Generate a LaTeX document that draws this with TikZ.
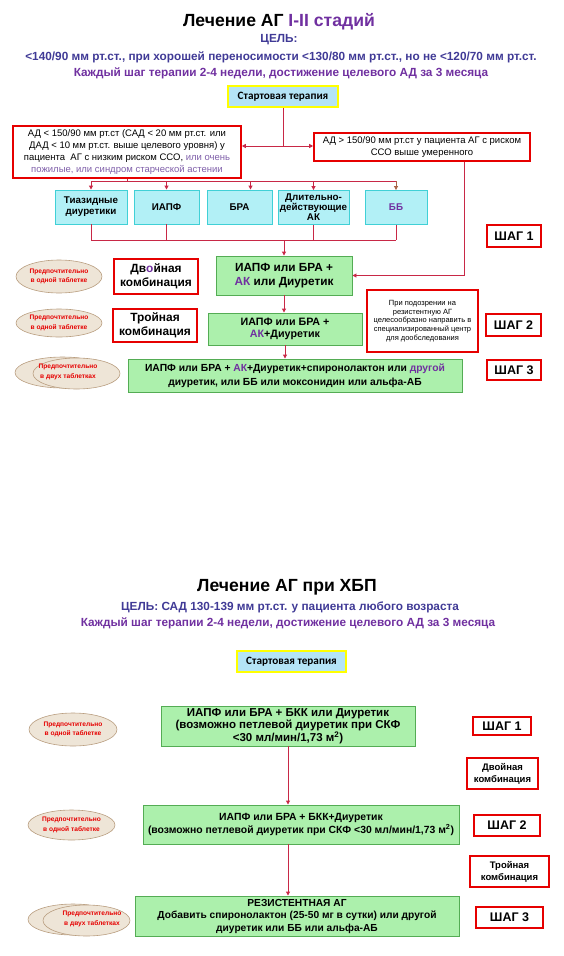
\documentclass[tikz,border=0pt]{standalone}
\usepackage{fontspec}
\setmainfont{Liberation Sans}
\newfontfamily\calfont{Carlito}
\usepackage{xcolor}
\definecolor{agpurple}{RGB}{112,48,160}
\definecolor{agslate}{RGB}{64,58,150}
\definecolor{aglilac}{RGB}{128,96,170}
\definecolor{agred}{RGB}{230,0,0}
\definecolor{agwire}{RGB}{200,40,70}
\definecolor{agbrown}{RGB}{170,100,70}
\definecolor{agcyan}{RGB}{64,208,214}
\definecolor{agcyanfill}{RGB}{178,240,246}
\definecolor{aggreen}{RGB}{84,172,84}
\definecolor{aggreenfill}{RGB}{172,240,172}
\definecolor{agstartfill}{RGB}{180,228,246}
\definecolor{agyellow}{RGB}{255,255,0}
\definecolor{agpill}{RGB}{238,229,215}
\definecolor{agpilledge}{RGB}{185,158,128}
\usetikzlibrary{arrows.meta,shapes.geometric}

\begin{document}
\begin{tikzpicture}[x=1pt,y=-1pt,
    titletext/.style={font=\fontsize{17.6}{20}\selectfont\bfseries},
    goaltext/.style={font=\fontsize{11.8}{14}\selectfont\bfseries, text=agslate},
    starttag/.style={draw=agyellow, line width=1.8pt, fill=agstartfill, inner sep=0pt,
                     minimum height=21pt, font=\calfont\fontsize{11.2}{12}\selectfont\bfseries},
    condbox/.style={draw=agred, line width=1.6pt, fill=white, inner sep=0pt, align=center,
                    font=\fontsize{9.5}{12.3}\selectfont},
    drugbox/.style={draw=agcyan, line width=0.9pt, fill=agcyanfill, inner sep=0pt, align=center,
                    minimum height=34pt, font=\fontsize{9.8}{11}\selectfont\bfseries},
    therapy/.style={draw=aggreen, line width=0.9pt, fill=aggreenfill, inner sep=0pt, align=center,
                    font=\fontsize{10}{13}\selectfont\bfseries},
    combo/.style={draw=agred, line width=1.6pt, fill=white, inner sep=0pt, align=center,
                  font=\fontsize{11.9}{14}\selectfont\bfseries},
    shagbox/.style={draw=agred, line width=1.6pt, fill=white, inner sep=0pt,
                    font=\fontsize{12.5}{13}\selectfont\bfseries},
    pill/.style={ellipse, draw=agpilledge, line width=0.6pt, fill=agpill, inner sep=0pt,
                 align=center, text=agred, font=\fontsize{6.6}{9.5}\selectfont\bfseries},
    pilltext/.style={align=center, text=agred, font=\fontsize{6.6}{9.5}\selectfont\bfseries},
    wire/.style={draw=agwire, line width=0.9pt},
    arr/.style={wire, -{Triangle[length=4pt,width=4pt]}}
  ]
  \useasboundingbox (0,0) rectangle (563,956);

  % I-II stages
  \node[titletext] (ttl1) at (279,22) {Лечение АГ \textcolor{agpurple}{I-II стадий}};
  \node[goaltext] (goal1) at (279,39.5) {ЦЕЛЬ:};
  \node[goaltext] (goal2) at (281,57) {<140/90 мм рт.ст., при хорошей переносимости <130/80 мм рт.ст., но не <120/70 мм рт.ст.};
  \node[goaltext, text=agpurple] (goal3) at (281,73) {Каждый шаг терапии 2-4 недели, достижение целевого АД за 3 месяца};

  \node[starttag, minimum width=110pt] (start1) at (283,96.5) {Стартовая терапия};

  \node[condbox, minimum width=228pt, minimum height=52pt] (lowrisk) at (127,152)
    {АД < 150/90 мм рт.ст (САД < 20 мм рт.ст. или\\ДАД < 10 мм рт.ст. выше целевого уровня) у\\
     пациента~ АГ с низким риском ССО, \textcolor{aglilac}{или очень}\\
     \textcolor{aglilac}{пожилые, или синдром старческой астении}};
  \node[condbox, minimum width=216pt, minimum height=28pt] (highrisk) at (422,147)
    {АД > 150/90 мм рт.ст у пациента АГ с риском\\ССО выше умеренного};

  \node[drugbox, minimum width=72pt] (thiaz) at (91,207) {Тиазидные\\диуретики};
  \node[drugbox, minimum width=65pt] (acei)  at (166.5,207) {ИАПФ};
  \node[drugbox, minimum width=65pt] (arb)   at (239.5,207) {БРА};
  \node[drugbox, minimum width=71pt, font=\fontsize{9.8}{10}\selectfont\bfseries] (ccb) at (313.5,207.5)
    {Длительно-\\действующие\\АК};
  \node[drugbox, minimum width=62pt, text=agpurple] (bb) at (396,207.5) {ББ};

  \node[therapy, minimum width=136pt, minimum height=39pt, font=\fontsize{11.8}{14}\selectfont\bfseries] (s1) at (284,275.5)
    {ИАПФ или БРА +\\\textcolor{agpurple}{АК} или Диуретик};
  \node[therapy, minimum width=154pt, minimum height=32pt, font=\fontsize{10.7}{12.5}\selectfont\bfseries] (s2) at (285,329)
    {ИАПФ или БРА +\\\textcolor{agpurple}{АК}+Диуретик};
  \node[therapy, minimum width=334pt, minimum height=33pt, font=\fontsize{10.3}{14}\selectfont\bfseries] (s3) at (295,375.5)
    {ИАПФ или БРА + \textcolor{agpurple}{АК}+Диуретик+спиронолактон или \textcolor{agpurple}{другой}\\
     диуретик, или ББ или моксонидин или альфа-АБ};

  \node[pill, minimum width=86pt, minimum height=33pt] (pill1) at (59,276.5) {Предпочтительно\\в одной таблетке};
  \node[pill, minimum width=86pt, minimum height=28pt] (pill2) at (59,323) {Предпочтительно\\в одной таблетке};
  \node[pill, minimum width=95pt, minimum height=31pt] (pill3b) at (62.5,372.5) {};
  \node[pill, minimum width=87pt, minimum height=31pt] (pill3) at (76.5,373.5) {};
  \node[pilltext] (pill3t) at (68,372) {Предпочтительно\\в двух таблетках};

  \node[combo, minimum width=84pt, minimum height=35pt] (dual1) at (156,276.5) {Дв\textcolor{agpurple}{о}йная\\комбинация};
  \node[combo, minimum width=84pt, minimum height=33pt] (triple1) at (155,325.5) {Тройная\\комбинация};

  \node[condbox, minimum width=111pt, minimum height=62pt, font=\fontsize{7.5}{8.6}\selectfont] (refer) at (422.5,321)
    {При подозрении на\\резистентную АГ\\целесообразно направить в\\специализированный центр\\для дообследования};

  \node[shagbox, minimum width=54pt, minimum height=22pt] (shag1) at (514,236) {ШАГ 1};
  \node[shagbox, minimum width=55pt, minimum height=22pt] (shag2) at (513.5,325) {ШАГ 2};
  \node[shagbox, minimum width=54pt, minimum height=20pt] (shag3) at (514,370) {ШАГ 3};

  \coordinate (fork) at (start1.south |- 0,146);
  \draw[wire] (start1.south) -- (fork);
  \draw[arr] (fork) -- (fork -| lowrisk.east);
  \draw[arr] (fork) -- (fork -| highrisk.west);

  \coordinate (bus) at (lowrisk.south |- 0,181);
  \coordinate (arbin) at ([xshift=11pt]arb.north);
  \draw[wire] (lowrisk.south) -- (bus);
  \draw[wire] (bus -| thiaz.north) -- (bus -| bb.north);
  \foreach \d in {thiaz,acei,ccb}
    \draw[arr] (bus -| \d.north) -- (\d.north);
  \draw[arr] (bus -| arbin) -- (arbin);
  \draw[arr, draw=agbrown] (bus -| bb.north) -- (bb.north);

  \coordinate (merge) at (s1.north |- 0,240);
  \foreach \d in {thiaz,acei,ccb,bb}
    \draw[wire] (\d.south) -- (\d.south |- merge);
  \draw[wire] (thiaz.south |- merge) -- (bb.south |- merge);
  \draw[arr] (merge) -- (s1.north);

  \coordinate (feed) at ([xshift=42pt]highrisk.south);
  \draw[arr] (feed) |- (s1.east);

  \draw[arr] (s1.south) -- (s1.south |- s2.north);
  \draw[arr] (s2.south) -- (s2.south |- s3.north);

  % CKD
  \node[titletext] (ttl2) at (287,587) {Лечение АГ при ХБП};
  \node[goaltext] (goal4) at (290,607) {ЦЕЛЬ: САД 130-139 мм рт.ст. у пациента любого возраста};
  \node[goaltext, text=agpurple] (goal5) at (288,623) {Каждый шаг терапии 2-4 недели, достижение целевого АД за 3 месяца};

  \node[starttag, minimum width=109pt] (start2) at (291.5,661.5) {Стартовая терапия};

  \node[therapy, minimum width=254pt, minimum height=40pt, font=\fontsize{11.5}{12.8}\selectfont\bfseries] (k1) at (288,726)
    {ИАПФ или БРА + БКК или Диуретик\\(возможно петлевой диуретик при СКФ\\<30 мл/мин/1,73 м\textsuperscript{2})};
  \node[therapy, minimum width=316pt, minimum height=39pt, font=\fontsize{10.4}{12.5}\selectfont\bfseries] (k2) at (301,824.5)
    {ИАПФ или БРА + БКК+Диуретик\\(возможно петлевой диуретик при СКФ <30 мл/мин/1,73 м\textsuperscript{2})};
  \node[therapy, minimum width=324pt, minimum height=40pt, font=\fontsize{10.2}{12.5}\selectfont\bfseries] (k3) at (297,916)
    {РЕЗИСТЕНТНАЯ АГ\\Добавить спиронолактон (25-50 мг в сутки) или другой\\диуретик или ББ или альфа-АБ};

  \node[pill, minimum width=88pt, minimum height=33pt] (kpill1) at (73,729.5) {Предпочтительно\\в одной таблетке};
  \node[pill, minimum width=87pt, minimum height=30pt] (kpill2) at (71.5,825) {Предпочтительно\\в одной таблетке};
  \node[pill, minimum width=90pt, minimum height=31pt] (kpill3b) at (73,919.5) {};
  \node[pill, minimum width=87pt, minimum height=31pt] (kpill3) at (86.5,920.5) {};
  \node[pilltext] (kpill3t) at (92,919) {Предпочтительно\\в двух таблетках};

  \node[shagbox, minimum width=58pt, minimum height=18pt] (kshag1) at (502,726) {ШАГ 1};
  \node[combo, minimum width=71pt, minimum height=31pt, font=\fontsize{9.5}{12}\selectfont\bfseries] (dual2) at (502.5,773.5) {Двойная\\комбинация};
  \node[shagbox, minimum width=66pt, minimum height=21pt] (kshag2) at (507,825.5) {ШАГ 2};
  \node[combo, minimum width=79pt, minimum height=31pt, font=\fontsize{9.5}{12}\selectfont\bfseries] (triple2) at (509.5,871.5) {Тройная\\комбинация};
  \node[shagbox, minimum width=67pt, minimum height=21pt] (kshag3) at (509.5,917.5) {ШАГ 3};

  \draw[arr] (k1.south) -- (k1.south |- k2.north);
  \draw[arr] (k1.south |- k2.south) -- (k1.south |- k3.north);
\end{tikzpicture}
\end{document}
